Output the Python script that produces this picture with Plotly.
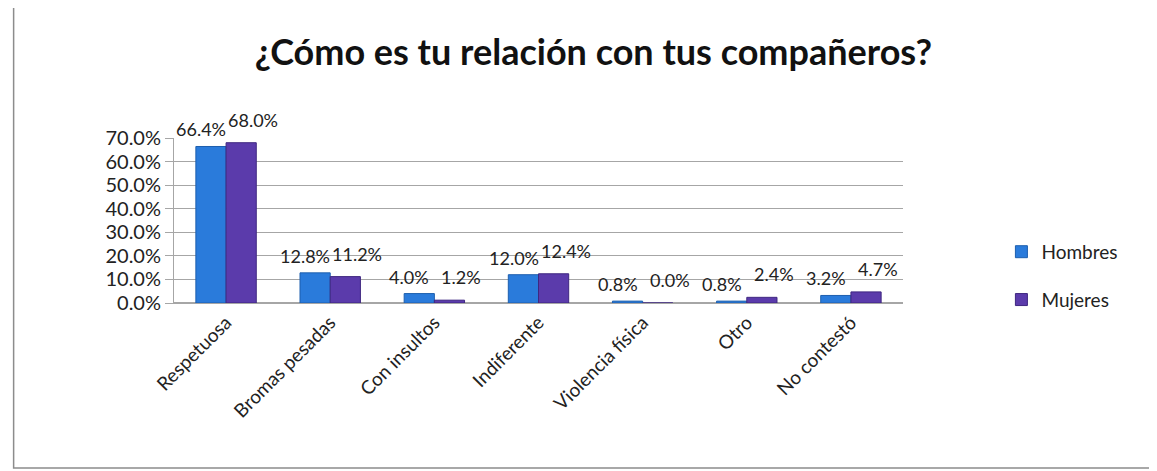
import plotly.graph_objects as go

categorias = ["Respetuosa", "Bromas pesadas", "Con insultos", "Indiferente",
              "Violencia física", "Otro", "No contestó"]
hombres = [66.4, 12.8, 4.0, 12.0, 0.8, 0.8, 3.2]
mujeres = [68.0, 11.2, 1.2, 12.4, 0.0, 2.4, 4.7]

colors = {"hombres": "#2a7bdb", "mujeres": "#5b3bab"}
font_family = "Lato, 'Open Sans', sans-serif"

fig = go.Figure()
fig.add_trace(go.Bar(
    x=categorias, y=hombres, name="Hombres", legend="legend",
    marker=dict(color=colors["hombres"], line=dict(color="#1d5fae", width=1)),
))
fig.add_trace(go.Bar(
    x=categorias, y=mujeres, name="Mujeres", legend="legend2",
    marker=dict(color=colors["mujeres"], line=dict(color="#3f2780", width=1)),
))

# value labels, nudged apart like in the original chart
for cat, h, m in zip(categorias, hombres, mujeres):
    fig.add_annotation(x=cat, y=h, text=f"{h:.1f}%", showarrow=False,
                       xshift=-25, yshift=4, yanchor="bottom",
                       font=dict(size=18, color="#222"))
    fig.add_annotation(x=cat, y=m, text=f"{m:.1f}%", showarrow=False,
                       xshift=27, yshift=10, yanchor="bottom",
                       font=dict(size=18, color="#222"))

legend_style = dict(xanchor="left", yanchor="middle", font=dict(size=19),
                    itemwidth=30, bgcolor="rgba(0,0,0,0)")

fig.update_layout(
    width=1157, height=471,
    margin=dict(l=166, r=262, t=130, b=176),
    paper_bgcolor="white", plot_bgcolor="white",
    font=dict(family=font_family, size=18, color="#222"),
    title=dict(text="<b>¿Cómo es tu relación con tus compañeros?</b>",
               x=0.506, xanchor="center", y=0.905, yanchor="middle",
               xref="container", yref="container",
               font=dict(size=36, color="#111")),
    barmode="group", bargap=0.42, bargroupgap=0,
    legend=dict(x=1.135, y=0.31, **legend_style),
    legend2=dict(x=1.135, y=0.02, **legend_style),
    showlegend=True,
    shapes=[dict(type="rect", xref="paper", yref="paper",
                 x0=-0.22, x1=1.37, y0=-1.0, y1=2.0,
                 line=dict(color="#8c8c8c", width=1.5), fillcolor="rgba(0,0,0,0)",
                 layer="below")],
)
fig.update_xaxes(tickangle=-45, showline=True, linecolor="#a6a6a6",
                 tickfont=dict(size=19), ticks="")
fig.update_yaxes(range=[0, 70], dtick=10, tickformat=".1f", ticksuffix="%",
                 showgrid=True, gridcolor="#a6a6a6", gridwidth=1,
                 showline=True, linecolor="#a6a6a6", zeroline=True,
                 zerolinecolor="#a6a6a6", ticks="outside", ticklen=8,
                 tickcolor="#a6a6a6", tickfont=dict(size=20))

fig.write_html("out.html")
